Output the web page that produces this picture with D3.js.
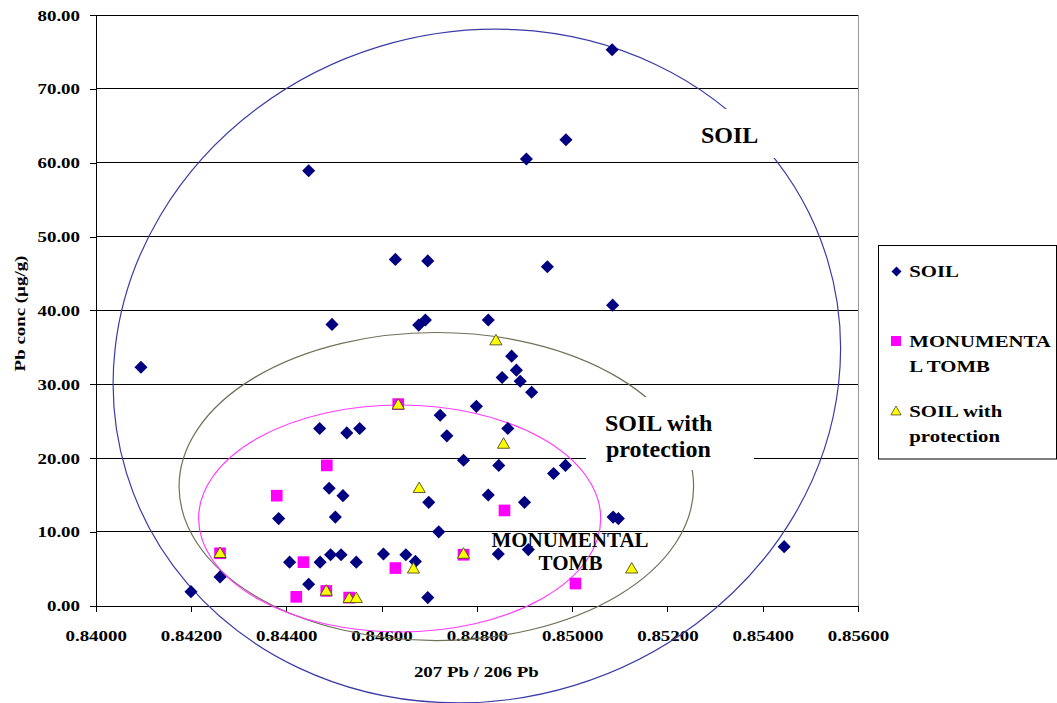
<!DOCTYPE html>
<html><head><meta charset="utf-8">
<script src="https://cdn.jsdelivr.net/npm/d3@7"></script>
<style>
body{margin:0;background:#fff}
svg{display:block}
text{font-family:"Liberation Serif","Times New Roman",serif;font-weight:bold;fill:#000}
</style>
</head><body>
<svg id="c" width="1057" height="703"></svg>
<script>
// ---- data ----
const xTicks = [0.840,0.842,0.844,0.846,0.848,0.850,0.852,0.854,0.856];
const yTicks = [0,10,20,30,40,50,60,70,80];
const seriesNames = ["SOIL","MONUMENTAL TOMB","SOIL with protection"];

const soilX = [0.84095,0.84200,0.84261,0.84384,0.84407,0.84447,0.84470,0.84471,0.84490,0.84493,0.84503,0.84515,0.84519,0.84527,0.84547,0.84554,0.84447,0.84496,0.84629,0.84697,0.84904,0.84987,0.84948,0.85084,0.85085,0.84824,0.84678,0.84692,0.84873,0.84883,0.84853,0.84891,0.84915,0.84799,0.84723,0.84737,0.84865,0.84772,0.84846,0.84961,0.84986,0.84699,0.84824,0.84900,0.85086,0.85097,0.84720,0.84604,0.84651,0.84671,0.84845,0.84908,0.84697,0.85445];
const soilY = [32.3,1.9,3.9,11.8,5.9,2.9,24.0,5.9,15.9,6.9,12.0,6.9,14.9,23.4,5.9,24.0,58.9,38.1,46.9,46.7,60.5,63.1,45.9,75.3,40.7,38.7,38.0,38.7,33.8,31.9,30.9,30.4,28.9,27.0,25.8,23.0,24.0,19.7,19.0,17.9,19.0,14.0,15.0,14.0,12.0,11.8,10.0,7.0,6.9,6.0,7.0,7.6,1.1,8.0];

const tombX = [0.84261,0.84380,0.84421,0.84436,0.84485,0.84484,0.84532,0.84635,0.84629,0.84772,0.84858,0.85007];
const tombY = [7.1,14.9,1.2,5.9,19.0,2.0,1.1,27.3,5.1,6.9,12.9,3.0];

const protX = [0.84261,0.84484,0.84532,0.84547,0.84667,0.84679,0.84772,0.84635,0.84840,0.84856,0.85125];
const protY = [7.0,1.9,0.9,0.9,4.9,15.8,6.9,27.1,35.8,21.8,4.9];

// grouping ellipses drawn on the chart (centre and radii in data units)
const ellCx = [0.84800,0.84715,0.84638];
const ellCy = [32.46,16.14,11.81];
const ellRx = [0.00769,0.00540,0.00422];
const ellRy = [45.23,20.86,15.37];
const ellRot = [-17,0,0];

// ---- drawing ----
const svg = d3.select("#c");
const L = 95.7, R = 858, T = 15, B = 605.7;
const x = d3.scaleLinear().domain([0.840,0.856]).range([L,R]);
const y = d3.scaleLinear().domain([0,80]).range([B,T]);
const SX = 1.26;

function sText(parent, tx, ty, str, size, anchor, sx, rot){
  const g = parent.append("g").attr("transform",`translate(${tx},${ty}) rotate(${rot||0}) scale(${sx||1},1)`);
  g.append("text").attr("x",0).attr("y",0).attr("font-size",size).attr("text-anchor",anchor||"start").text(str);
  return g;
}

// gridlines
svg.append("g").attr("shape-rendering","crispEdges").selectAll("line").data(yTicks.filter(d=>d>0)).join("line")
  .attr("x1",L).attr("x2",R).attr("y1",d=>y(d)).attr("y2",d=>y(d))
  .attr("stroke","#000").attr("stroke-width",1);
// right border
svg.append("line").attr("shape-rendering","crispEdges").attr("x1",R).attr("x2",R).attr("y1",T).attr("y2",B).attr("stroke","#999");

// axes
const gy = svg.append("g").attr("transform",`translate(${L},0)`).attr("shape-rendering","crispEdges")
  .call(d3.axisLeft(y).tickValues(yTicks).tickSize(6).tickSizeOuter(0).tickFormat(d3.format(".2f")));
gy.select(".domain").attr("stroke","#000");
gy.selectAll(".tick line").attr("stroke","#000");
gy.selectAll(".tick text").attr("x",0).attr("dy","0.34em").attr("font-size",15)
  .attr("text-anchor","end").attr("transform",`translate(-15.7,0) scale(${SX},1)`);

const gx = svg.append("g").attr("transform",`translate(0,${B})`).attr("shape-rendering","crispEdges")
  .call(d3.axisBottom(x).tickValues(xTicks).tickSize(6).tickSizeOuter(0).tickFormat(d3.format(".5f")));
gx.select(".domain").attr("stroke","#000");
gx.selectAll(".tick line").attr("stroke","#000");
gx.selectAll(".tick text").attr("y",0).attr("dy",0).attr("font-size",15)
  .attr("text-anchor","middle").attr("transform",`translate(0,35.5) scale(${SX},1)`);

// axis titles
sText(svg, (x.range()[0]+x.range()[1])/2 - 0.5, 677, "207 Pb / 206 Pb", 15, "middle", SX);
sText(svg, 25, 313.5, "Pb conc (µg/g)", 15, "middle", SX, -90);

// ellipses
const ellColors = ["#3b3ba6","#70705a","#ff3cff"];
const eg = svg.append("g");
ellCx.forEach((cx,i)=>{
  const px = x(cx), py = y(ellCy[i]);
  const rx = x(cx+ellRx[i]) - px;
  const ry = y(0) - y(ellRy[i]);
  eg.append("ellipse").attr("cx",0).attr("cy",0).attr("rx",rx).attr("ry",ry)
    .attr("transform",`translate(${px},${py}) rotate(${ellRot[i]})`)
    .attr("fill","none").attr("stroke",ellColors[i]).attr("stroke-width",1.2);
});

// annotation boxes and labels
svg.append("rect").attr("x",685).attr("y",109).attr("width",90).attr("height",49).attr("fill","#fff");
svg.append("rect").attr("x",586).attr("y",397).attr("width",168).attr("height",73).attr("fill","#fff");
sText(svg, 729.7, 142.7, "SOIL", 24, "middle");
sText(svg, 605, 430.7, "SOIL with", 24, "start");
sText(svg, 606, 456.7, "protection", 24, "start");
sText(svg, 570, 546.7, "MONUMENTAL", 21, "middle");
sText(svg, 570.5, 570, "TOMB", 21, "middle");

// markers
const diamond = d3.symbol().type(d3.symbolSquare).size(86)();
const square = d3.symbol().type(d3.symbolSquare).size(136)();
const tri = d3.symbol().type(d3.symbolTriangle).size(64)();

svg.append("g").selectAll("path").data(soilX.map((d,i)=>[d,soilY[i]])).join("path")
  .attr("d",diamond).attr("transform",d=>`translate(${x(d[0])},${y(d[1])}) rotate(45)`)
  .attr("fill","#000080");
svg.append("g").selectAll("path").data(tombX.map((d,i)=>[d,tombY[i]])).join("path")
  .attr("d",square).attr("transform",d=>`translate(${x(d[0])},${y(d[1])})`)
  .attr("fill","#ff00ff");
svg.append("g").selectAll("path").data(protX.map((d,i)=>[d,protY[i]])).join("path")
  .attr("d",tri).attr("transform",d=>`translate(${x(d[0])},${y(d[1])})`)
  .attr("fill","#ffff00").attr("stroke","#4d4d1a").attr("stroke-width",0.9);

// legend
const lg = svg.append("g");
lg.append("rect").attr("x",878.5).attr("y",245.5).attr("width",178).attr("height",213.5)
  .attr("fill","#fff").attr("stroke","#000");
lg.append("path").attr("d",d3.symbol().type(d3.symbolSquare).size(50)())
  .attr("transform","translate(896.5,271.5) rotate(45)").attr("fill","#000080");
lg.append("path").attr("d",d3.symbol().type(d3.symbolSquare).size(100)())
  .attr("transform","translate(896,341)").attr("fill","#ff00ff");
lg.append("path").attr("d",d3.symbol().type(d3.symbolTriangle).size(45)())
  .attr("transform","translate(896,412)").attr("fill","#ffff00").attr("stroke","#4d4d1a").attr("stroke-width",0.8);
const legendLines = [[seriesNames[0]],["MONUMENTA","L TOMB"],["SOIL with","protection"]];
const legendBase = [276.7,346.7,416.7];
legendLines.forEach((lines,i)=>{
  lines.forEach((t,j)=>sText(lg, 909.3, legendBase[i]+j*25, t, 16.5, "start", SX));
});
</script>
</body></html>
